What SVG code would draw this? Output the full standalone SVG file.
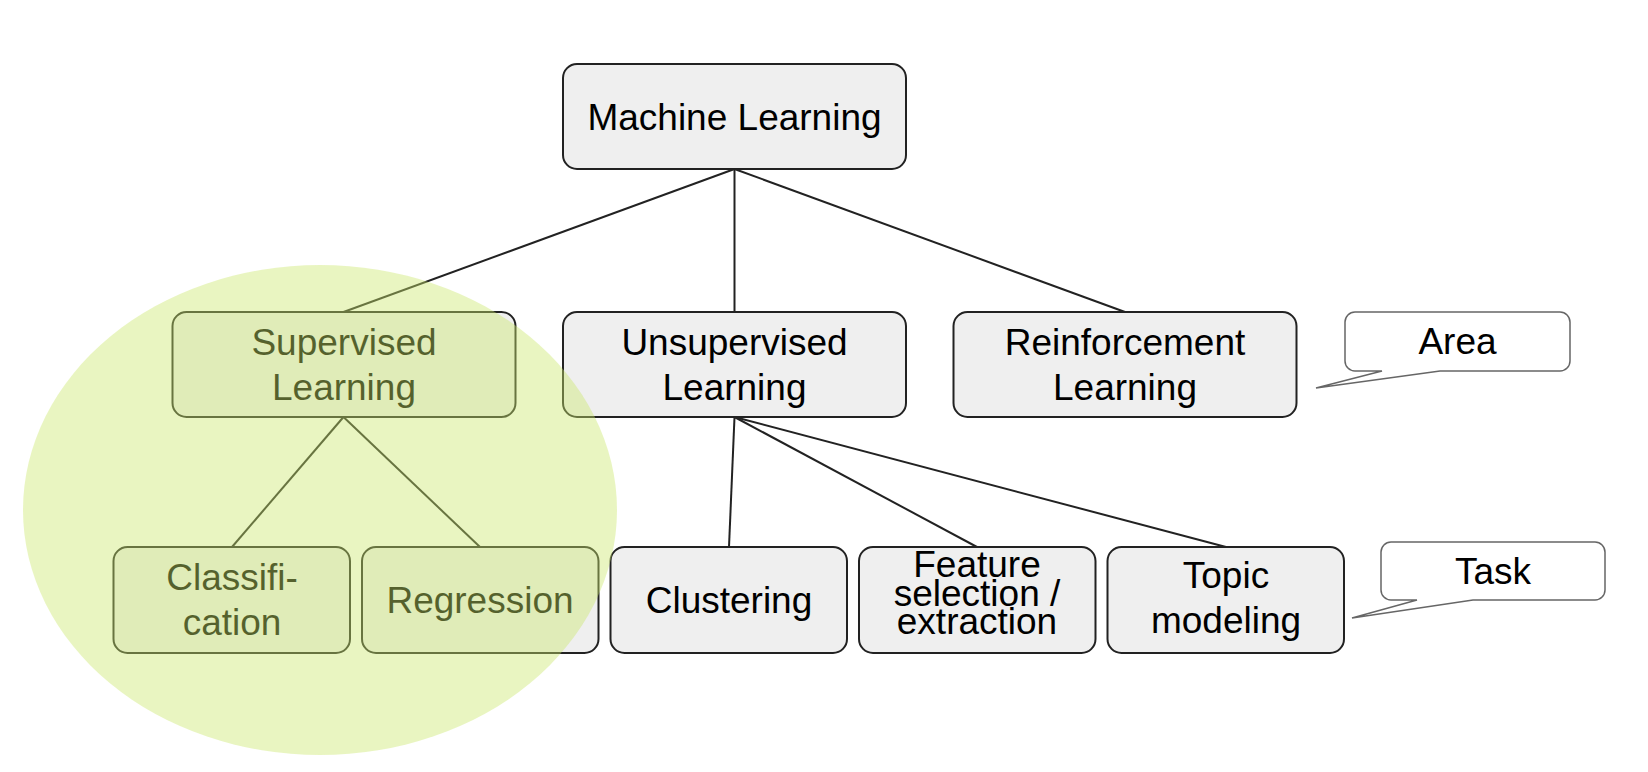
<svg xmlns="http://www.w3.org/2000/svg" width="1648" height="772" viewBox="0 0 1648 772">
<style>
.box{fill:#efefef;stroke:#222;stroke-width:2}
.lbl{font-family:"Liberation Sans",Arial,sans-serif;font-size:37px;fill:#000;text-anchor:middle}
.edge{stroke:#222;stroke-width:2;fill:none}
.call{fill:#fff;stroke:#666;stroke-width:1.5}
</style>
<rect width="1648" height="772" fill="#fff"/>
<g id="connectors">
<line class="edge" x1="734.5" y1="169" x2="343.5" y2="312"/>
<line class="edge" x1="734.5" y1="169" x2="734.5" y2="312"/>
<line class="edge" x1="734.5" y1="169" x2="1125" y2="312"/>
<line class="edge" x1="343.5" y1="417" x2="232" y2="547"/>
<line class="edge" x1="343.5" y1="417" x2="480" y2="547"/>
<line class="edge" x1="734.5" y1="417" x2="729" y2="547"/>
<line class="edge" x1="734.5" y1="417" x2="977" y2="547"/>
<line class="edge" x1="734.5" y1="417" x2="1226" y2="547"/>
</g>
<g id="machine-learning">
<rect class="box" x="563" y="64" width="343" height="105" rx="14"/>
<text class="lbl" x="734.5" y="130">Machine Learning</text>
</g>
<g id="supervised">
<rect class="box" x="172.5" y="312" width="343" height="105" rx="14"/>
<text class="lbl" x="344" y="355">Supervised</text>
<text class="lbl" x="344" y="400">Learning</text>
</g>
<g id="unsupervised">
<rect class="box" x="563" y="312" width="343" height="105" rx="14"/>
<text class="lbl" x="734.5" y="355">Unsupervised</text>
<text class="lbl" x="734.5" y="400">Learning</text>
</g>
<g id="reinforcement">
<rect class="box" x="953.5" y="312" width="343" height="105" rx="14"/>
<text class="lbl" x="1125" y="355">Reinforcement</text>
<text class="lbl" x="1125" y="400">Learning</text>
</g>
<g id="classification">
<rect class="box" x="113.5" y="547" width="236.5" height="106" rx="14"/>
<text class="lbl" x="232" y="590">Classifi-</text>
<text class="lbl" x="232" y="635">cation</text>
</g>
<g id="regression">
<rect class="box" x="362" y="547" width="236.5" height="106" rx="14"/>
<text class="lbl" x="480" y="613">Regression</text>
</g>
<g id="clustering">
<rect class="box" x="610.5" y="547" width="236.5" height="106" rx="14"/>
<text class="lbl" x="729" y="613">Clustering</text>
</g>
<g id="feature">
<rect class="box" x="859" y="547" width="236.5" height="106" rx="14"/>
<text class="lbl" x="977" y="577">Feature</text>
<text class="lbl" x="977" y="606">selection /</text>
<text class="lbl" x="977" y="634">extraction</text>
</g>
<g id="topic">
<rect class="box" x="1107.5" y="547" width="236.5" height="106" rx="14"/>
<text class="lbl" x="1226" y="588">Topic</text>
<text class="lbl" x="1226" y="633">modeling</text>
</g>
<g id="area-callout">
<path class="call" d="M1355,312 H1560 A10,10 0 0 1 1570,322 V361 A10,10 0 0 1 1560,371 H1440 L1316,388 L1382,371 H1355 A10,10 0 0 1 1345,361 V322 A10,10 0 0 1 1355,312 Z"/>
<text class="lbl" x="1457.5" y="354">Area</text>
</g>
<g id="task-callout">
<path class="call" d="M1391,542 H1595 A10,10 0 0 1 1605,552 V590 A10,10 0 0 1 1595,600 H1473 L1352,618 L1417,600 H1391 A10,10 0 0 1 1381,590 V552 A10,10 0 0 1 1391,542 Z"/>
<text class="lbl" x="1493" y="584">Task</text>
</g>
<g id="supervised-highlight">
<ellipse cx="320" cy="510" rx="297" ry="245" fill="#cbe86b" fill-opacity="0.42"/>
</g>
</svg>
